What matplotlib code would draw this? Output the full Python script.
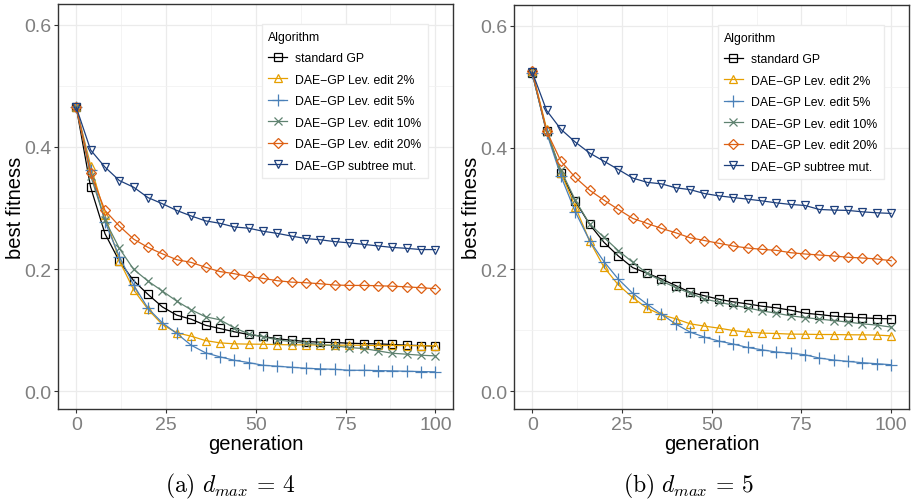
import matplotlib
matplotlib.use("Agg")
import matplotlib.pyplot as plt
from matplotlib.ticker import MultipleLocator

plt.rcParams['font.family'] = ['Liberation Sans', 'DejaVu Sans']
plt.rcParams['mathtext.fontset'] = 'cm'

generations = list(range(0, 101, 4))

labels = ['standard GP', 'DAE\u2212GP Lev. edit 2%', 'DAE\u2212GP Lev. edit 5%',
          'DAE\u2212GP Lev. edit 10%', 'DAE\u2212GP Lev. edit 20%', 'DAE\u2212GP subtree mut.']

# d_max = 4
std_gp_4 = [0.465, 0.334, 0.258, 0.213, 0.181, 0.1585, 0.138, 0.1246, 0.118, 0.108, 0.1028, 0.0974, 0.093,
            0.0897, 0.086, 0.0836, 0.0815, 0.0803, 0.0798, 0.0787, 0.078, 0.0776, 0.0766, 0.0754, 0.0749, 0.0738]
lev2_4 = [0.465, 0.3695, 0.2885, 0.2138, 0.166, 0.134, 0.109, 0.0957, 0.0902, 0.083, 0.0793, 0.0777, 0.0772,
          0.077, 0.0765, 0.076, 0.076, 0.0757, 0.0755, 0.0755, 0.0752, 0.075, 0.075, 0.0748, 0.0745, 0.0745]
lev5_4 = [0.465, 0.3623, 0.2777, 0.2203, 0.1738, 0.1356, 0.112, 0.0946, 0.0754, 0.063, 0.0564, 0.0508, 0.047,
          0.0426, 0.041, 0.0393, 0.0377, 0.0367, 0.036, 0.0344, 0.0344, 0.0339, 0.0334, 0.0328, 0.0323, 0.0318]
lev10_4 = [0.465, 0.353, 0.2803, 0.234, 0.1995, 0.1803, 0.164, 0.1475, 0.1334, 0.122, 0.117, 0.104, 0.094,
           0.0892, 0.0843, 0.081, 0.0787, 0.0766, 0.0744, 0.0716, 0.07, 0.0662, 0.0623, 0.0607, 0.059, 0.058]
lev20_4 = [0.465, 0.357, 0.296, 0.2705, 0.249, 0.2355, 0.225, 0.2154, 0.211, 0.203, 0.196, 0.1925, 0.188,
           0.1848, 0.181, 0.1787, 0.1777, 0.176, 0.174, 0.1733, 0.1733, 0.1728, 0.172, 0.171, 0.1695, 0.168]
subtree_4 = [0.465, 0.395, 0.367, 0.345, 0.334, 0.317, 0.307, 0.296, 0.287, 0.279, 0.275, 0.269, 0.267,
             0.262, 0.2585, 0.254, 0.25, 0.248, 0.245, 0.243, 0.2405, 0.238, 0.2355, 0.234, 0.232, 0.232]

# d_max = 5
std_gp_5 = [0.522, 0.427, 0.3584, 0.312, 0.274, 0.2445, 0.222, 0.203, 0.1938, 0.1844, 0.1735, 0.1627, 0.1568,
            0.1512, 0.1468, 0.1435, 0.1397, 0.137, 0.1332, 0.1283, 0.126, 0.1234, 0.1218, 0.1206, 0.1195, 0.119]
lev2_5 = [0.525, 0.431, 0.359, 0.3028, 0.2466, 0.2036, 0.1746, 0.1538, 0.1365, 0.1255, 0.119, 0.1108, 0.107,
          0.1037, 0.0998, 0.0972, 0.0956, 0.0949, 0.0939, 0.0937, 0.0933, 0.0932, 0.0928, 0.0927, 0.0923, 0.0911]
lev5_5 = [0.522, 0.4245, 0.353, 0.2946, 0.2471, 0.2128, 0.184, 0.161, 0.143, 0.1267, 0.1103, 0.0972, 0.089,
          0.0825, 0.0776, 0.072, 0.0682, 0.0645, 0.0628, 0.06, 0.0546, 0.0514, 0.0491, 0.047, 0.0453, 0.0437]
lev10_5 = [0.522, 0.426, 0.3628, 0.3137, 0.2745, 0.2527, 0.2308, 0.2118, 0.1938, 0.1812, 0.1702, 0.161, 0.1515,
           0.1463, 0.1414, 0.137, 0.132, 0.1283, 0.1239, 0.1211, 0.1185, 0.1162, 0.1136, 0.1108, 0.1087, 0.1054]
lev20_5 = [0.525, 0.427, 0.3776, 0.351, 0.33, 0.3137, 0.2985, 0.2838, 0.2756, 0.2674, 0.2602, 0.252, 0.2475,
           0.2429, 0.2385, 0.2352, 0.233, 0.2314, 0.2275, 0.2254, 0.2237, 0.2221, 0.22, 0.2188, 0.2172, 0.2144]
subtree_5 = [0.524, 0.461, 0.43, 0.409, 0.391, 0.3776, 0.364, 0.35, 0.343, 0.3405, 0.334, 0.331, 0.3246,
             0.3208, 0.318, 0.3154, 0.3126, 0.3093, 0.3067, 0.305, 0.2985, 0.2974, 0.2969, 0.2946, 0.293, 0.292]

colors = ['#000000', '#E69F00', '#4A80B8', '#5F8270', '#DD6014', '#1D3F7C']
markers = ['s', '^', '+', 'x', 'D', 'v']
msizes = [5.8, 6.3, 8.5, 6.2, 5.0, 6.3]

series_4 = [std_gp_4, lev2_4, lev5_4, lev10_4, lev20_4, subtree_4]
series_5 = [std_gp_5, lev2_5, lev5_5, lev10_5, lev20_5, subtree_5]

fig = plt.figure(figsize=(9.11, 5.02), dpi=100)
ax1 = fig.add_axes([58.3 / 911, 92 / 502, 395 / 911, 405 / 502])
ax2 = fig.add_axes([514.3 / 911, 92 / 502, 394.7 / 911, 404 / 502])


def draw_panel(ax, series):
    for vals, c, m, ms, lab in zip(series, colors, markers, msizes, labels):
        ax.plot(generations, vals, color=c, lw=0.9, marker=m, ms=ms, mfc='none',
                mec=c, mew=0.9, label=lab)
    ax.set_xlim(-5, 105)
    ax.set_ylim(-0.029, 0.634)
    ax.xaxis.set_major_locator(MultipleLocator(25))
    ax.xaxis.set_minor_locator(MultipleLocator(12.5))
    ax.yaxis.set_major_locator(MultipleLocator(0.2))
    ax.yaxis.set_minor_locator(MultipleLocator(0.1))
    ax.yaxis.set_major_formatter(lambda v, p: f"{v:.1f}")
    ax.grid(which='major', color='#EBEBEB', lw=0.9)
    ax.grid(which='minor', color='#F2F2F2', lw=0.6)
    ax.set_axisbelow(True)
    for s in ax.spines.values():
        s.set_color('#333333')
        s.set_linewidth(1.0)
    ax.tick_params(which='major', length=3, width=0.8, color='#333333',
                   labelsize=14, labelcolor='#7F7F7F', pad=2)
    ax.tick_params(which='minor', length=0)
    ax.set_xlabel('generation', fontsize=14.5, labelpad=1)
    ax.set_ylabel('best fitness', fontsize=14.5, labelpad=-1)
    leg = ax.legend(title='Algorithm', loc='upper left', bbox_to_anchor=(0.515, 0.951),
                    fontsize=8.8, title_fontsize=8.8, frameon=True, fancybox=False,
                    edgecolor='#EBEBEB', framealpha=1, handlelength=1.5, labelspacing=0.78,
                    borderpad=0.55, handletextpad=0.65, borderaxespad=0, alignment='left')
    leg.get_frame().set_linewidth(1.0)


draw_panel(ax1, series_4)
draw_panel(ax2, series_5)

fig.text(0.2525, 0.03, r'$\mathrm{(a)}\ d_{max}\, =\, 4$', ha='center', va='center', fontsize=17)
fig.text(0.756, 0.03, r'$\mathrm{(b)}\ d_{max}\, =\, 5$', ha='center', va='center', fontsize=17)

fig.savefig('out.png', dpi=100)
